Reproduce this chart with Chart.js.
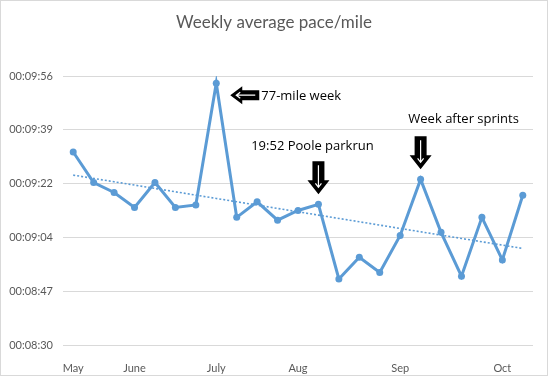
<!DOCTYPE html>
<html>
<head>
	<meta charset="utf-8">
	<title>Weekly average pace/mile</title>
	<style>
		html, body { margin: 0; padding: 0; background: #fff; }
		#wrap { position: relative; width: 548px; height: 376px; box-sizing: border-box; border: 1px solid #d9d9d9; }
		#myChart { position: absolute; left: -1px; top: -1px; }
	</style>
</head>
<body>
	<div id="wrap"><canvas id="myChart" width="548" height="376"></canvas></div>

	<script src="https://cdn.jsdelivr.net/npm/chart.js@4.4.1/dist/chart.umd.min.js"></script>
	<script type="text/javascript">
	// weekly labels, only month starts are shown
	var weeks = ["May", "", "", "June", "", "", "", "July", "", "", "", "Aug", "", "", "", "", "Sep", "", "", "", "", "Oct", ""];
	// average pace per mile in seconds
	var pace = [572.0, 562.2, 559.0, 554.2, 562.2, 554.2, 555.0, 594.1, 551.0, 556.0, 550.1, 553.2,
		555.2, 531.2, 538.2, 533.3, 545.2, 563.2, 546.2, 532.1, 551.0, 537.3, 558.1];
	var yTickValues = [510, 527.28, 544.56, 561.84, 579.12, 596.4];
	var yTickLabels = ["00:08:30", "00:08:47", "00:09:04", "00:09:22", "00:09:39", "00:09:56"];
	var notes = [
		{ idx: 7, text: "77-mile week", arrow: "left" },
		{ idx: 12, text: "19:52 Poole parkrun", arrow: "down" },
		{ idx: 17, text: "Week after sprints", arrow: "down" }
	];

	// linear trendline (least squares) from the pace values
	function trend(vals) {
		var n = vals.length, sx = 0, sy = 0, sxy = 0, sxx = 0;
		vals.forEach(function(v, i){ sx += i; sy += v; sxy += i * v; sxx += i * i; });
		var b = (n * sxy - sx * sy) / (n * sxx - sx * sx);
		var a = (sy - b * sx) / n;
		return vals.map(function(v, i){ return a + b * i; });
	}

	var blue = "#5b9bd5";

	function downArrow(ctx, cx, top, bottom) {
		ctx.beginPath();
		ctx.moveTo(cx - 6, top);
		ctx.lineTo(cx + 6, top);
		ctx.lineTo(cx + 6, bottom - 14);
		ctx.lineTo(cx + 11, bottom - 14);
		ctx.lineTo(cx, bottom);
		ctx.lineTo(cx - 11, bottom - 14);
		ctx.lineTo(cx - 6, bottom - 14);
		ctx.closePath();
		ctx.fillStyle = "#000";
		ctx.fill();
		ctx.strokeStyle = "#fff";
		ctx.lineWidth = 1.2;
		ctx.beginPath();
		ctx.moveTo(cx, top + 4);
		ctx.lineTo(cx, bottom - 7);
		ctx.moveTo(cx - 3, bottom - 11);
		ctx.lineTo(cx, bottom - 7);
		ctx.lineTo(cx + 3, bottom - 11);
		ctx.stroke();
	}

	function leftArrow(ctx, left, right, cy) {
		ctx.beginPath();
		ctx.moveTo(right, cy - 5);
		ctx.lineTo(right, cy + 5);
		ctx.lineTo(left + 12, cy + 5);
		ctx.lineTo(left + 12, cy + 9);
		ctx.lineTo(left, cy);
		ctx.lineTo(left + 12, cy - 9);
		ctx.lineTo(left + 12, cy - 5);
		ctx.closePath();
		ctx.fillStyle = "#000";
		ctx.fill();
		ctx.strokeStyle = "#fff";
		ctx.lineWidth = 1.2;
		ctx.beginPath();
		ctx.moveTo(right - 4, cy);
		ctx.lineTo(left + 6, cy);
		ctx.moveTo(left + 10, cy - 3);
		ctx.lineTo(left + 6, cy);
		ctx.lineTo(left + 10, cy + 3);
		ctx.stroke();
	}

	var extras = {
		id: "extras",
		afterDraw: function(chart) {
			var ctx = chart.ctx;
			var x = chart.scales.x, y = chart.scales.y;
			ctx.save();
			// title
			ctx.fillStyle = "#595959";
			ctx.font = "17px Lato";
			ctx.textAlign = "center";
			ctx.textBaseline = "middle";
			ctx.fillText("Weekly average pace/mile", 274, 23);
			// annotations
			ctx.font = "13px 'Open Sans'";
			notes.forEach(function(n){
				var px = x.getPixelForValue(n.idx);
				var py = y.getPixelForValue(pace[n.idx]);
				ctx.fillStyle = "#000";
				if (n.arrow === "left") {
					leftArrow(ctx, px + 14, px + 43, py + 12);
					ctx.textAlign = "left";
					ctx.fillStyle = "#000";
					ctx.fillText(n.text, px + 45, py + 13);
				} else {
					downArrow(ctx, px, py - 43, py - 10);
					ctx.textAlign = "center";
					ctx.fillStyle = "#000";
					ctx.fillText(n.text, px + (n.idx === 12 ? -6 : 43), py - (n.idx === 12 ? 58 : 60));
				}
			});
			ctx.restore();
		}
	};

	var ctx = document.getElementById("myChart");
	var myChart = new Chart(ctx, {
		type: "line",
		data: {
			labels: weeks,
			datasets: [
				{
					data: pace,
					borderColor: blue,
					backgroundColor: blue,
					borderWidth: 3,
					pointRadius: 3.5,
					pointBorderWidth: 0,
					tension: 0
				},
				{
					data: trend(pace),
					borderColor: blue,
					borderWidth: 1.6,
					borderDash: [2, 2],
					pointRadius: 0,
					tension: 0
				}
			]
		},
		options: {
			responsive: false,
			animation: false,
			layout: { padding: { top: 76, right: 15, left: 0, bottom: 0 } },
			plugins: { legend: { display: false }, tooltip: { enabled: false }, title: { display: false } },
			scales: {
				x: {
					offset: true,
					grid: { display: false },
					border: { display: false },
					ticks: { autoSkip: false, maxRotation: 0, padding: 9, color: "#595959", font: { family: "Lato", size: 11 } },
					afterFit: function(s){ s.height = 31; }
				},
				y: {
					min: 510,
					max: 596.4,
					afterBuildTicks: function(s){ s.ticks = yTickValues.map(function(v){ return { value: v }; }); },
					grid: { color: "#d9d9d9", drawTicks: false },
					border: { display: false },
					ticks: {
						padding: 10,
						color: "#595959",
						font: { family: "Lato", size: 11 },
						callback: function(v, i){ return yTickLabels[i]; }
					},
					afterFit: function(s){ s.width = 63; }
				}
			}
		},
		plugins: [extras]
	});
	</script>
</body>
</html>
